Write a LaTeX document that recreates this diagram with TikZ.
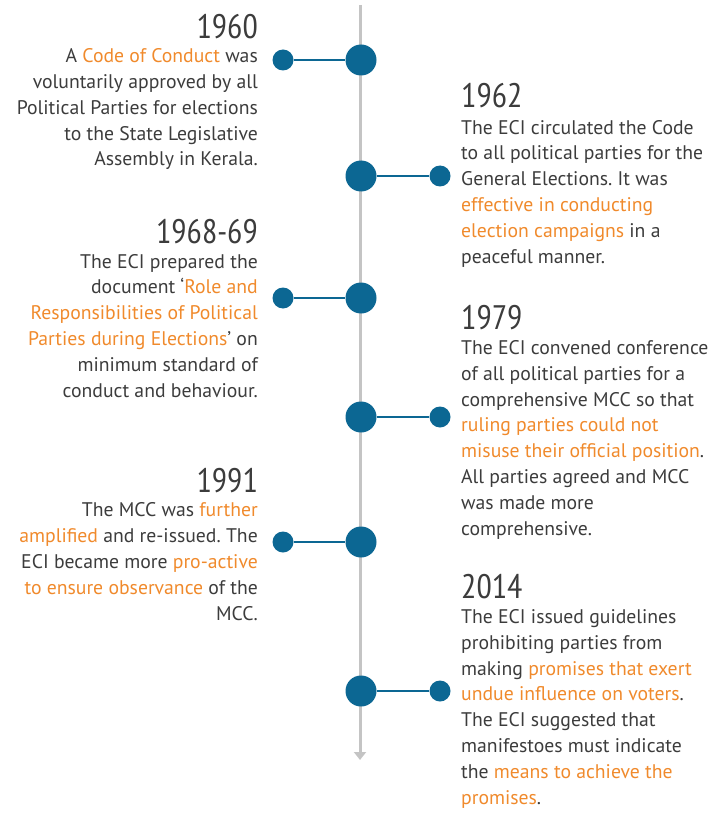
\documentclass[tikz,border=0pt]{standalone}
\usepackage{fontspec}
\setmainfont{PT Sans}
\newfontfamily\yearfont{PT Sans Narrow}
\usetikzlibrary{arrows.meta}
\definecolor{inkgray}{HTML}{3C3C3C}
\definecolor{accent}{HTML}{F08A2C}
\definecolor{dotblue}{HTML}{0C6793}
\definecolor{axisgray}{HTML}{C4C4C4}
\newcommand\orng[1]{\textcolor{accent}{#1}}
\frenchspacing
\begin{document}
\begin{tikzpicture}[x=1pt,y=-1pt,
  yearlabel/.style={font=\yearfont\fontsize{34}{34}\selectfont, text=inkgray, inner sep=0pt},
  bodytext/.style={font=\fontsize{19.7}{25.8}\selectfont, text=inkgray, inner sep=0pt},
  % multi-line nodes: the base anchor sits on the last line
  lefttext/.style={bodytext, align=right, anchor=base east},
  righttext/.style={bodytext, align=left, anchor=base west},
  bigdot/.style={circle, fill=dotblue, minimum size=31pt, inner sep=0pt},
  smalldot/.style={circle, fill=dotblue, minimum size=21pt, inner sep=0pt},
  conn/.style={draw=dotblue, line width=2pt},
  axis/.style={draw=axisgray, line width=3pt, -{Triangle[width=12pt,length=8pt]}}]
\useasboundingbox (0,0) rectangle (714,813);

% timeline axis
\coordinate (axtop) at (360,5);
\coordinate (axend) at (360,760);
\draw[axis] (axtop) -- (axend);

% milestone dots
\node[bigdot] (b1) at (361,60) {};
\node[smalldot] (s1) at (283,60) {};
\node[bigdot] (b2) at (361,176) {};
\node[smalldot] (s2) at (440,176) {};
\node[bigdot] (b3) at (361,298) {};
\node[smalldot] (s3) at (283,298) {};
\node[bigdot] (b4) at (361,417) {};
\node[smalldot] (s4) at (440,417) {};
\node[bigdot] (b5) at (361,542) {};
\node[smalldot] (s5) at (283,542) {};
\node[bigdot] (b6) at (361,691) {};
\node[smalldot] (s6) at (440,691) {};

\foreach \a/\b in {s1/b1,b2/s2,s3/b3,b4/s4,s5/b5,b6/s6}
  \draw[conn] (\a) -- (\b);

% 1960
\node[yearlabel, anchor=base east] (y1) at (258,39) {1960};
\node[lefttext] (t1) at (258,166) {A \orng{Code of Conduct} was\\voluntarily approved by all\\Political Parties for elections\\to the State Legislative\\Assembly in Kerala.};

% 1962
\node[yearlabel, anchor=base west] (y2) at (461,108) {1962};
\node[righttext] (t2) at (461,263) {The ECI circulated the Code\\to all political parties for the\\General Elections. It was\\\orng{effective in conducting}\\\orng{election campaigns} in a\\peaceful manner.};

% 1968-69
\node[yearlabel, anchor=base east] (y3) at (258,243) {1968-69};
\node[lefttext] (t3) at (258,397) {The ECI prepared the\\document `\orng{Role and}\\\orng{Responsibilities of Political}\\\orng{Parties during Elections}' on\\minimum standard of\\conduct and behaviour.};

% 1979
\node[yearlabel, anchor=base west] (y4) at (461,329) {1979};
\node[righttext] (t4) at (461,535) {The ECI convened conference\\of all political parties for a\\comprehensive MCC so that\\\orng{ruling parties could not}\\\orng{misuse their official position}.\\All parties agreed and MCC\\was made more\\comprehensive.};

% 1991
\node[yearlabel, anchor=base east] (y5) at (258,492) {1991};
\node[lefttext] (t5) at (258,620) {The MCC was \orng{further}\\\orng{amplified} and re-issued. The\\ECI became more \orng{pro-active}\\\orng{to ensure observance} of the\\MCC.};

% 2014
\node[yearlabel, anchor=base west] (y6) at (461,598) {2014};
\node[righttext] (t6) at (461,804) {The ECI issued guidelines\\prohibiting parties from\\making \orng{promises that exert}\\\orng{undue influence on voters}.\\The ECI suggested that\\manifestoes must indicate\\the \orng{means to achieve the}\\\orng{promises}.};
\end{tikzpicture}
\end{document}
